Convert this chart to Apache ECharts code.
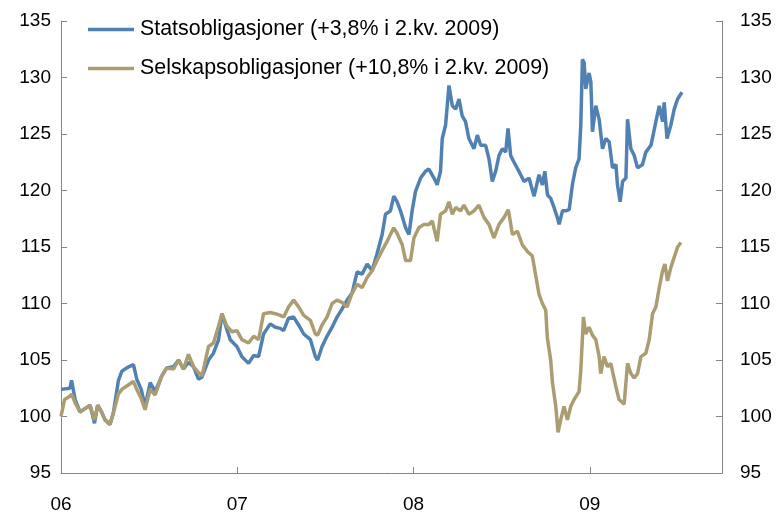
<!DOCTYPE html>
<html>
<head>
<meta charset="utf-8">
<script src="https://cdn.jsdelivr.net/npm/echarts@6/dist/echarts.min.js"></script>
<style>
  html, body { margin: 0; padding: 0; background: #fff; }
  #chart { width: 777px; height: 514px; }
</style>
</head>
<body>
<div id="chart"></div>
<script>
// x values are years since 1 Jan 2006
const statsYears = [0, 0.051, 0.06, 0.08, 0.108, 0.136, 0.165, 0.19, 0.208, 0.23, 0.25, 0.278, 0.297, 0.326, 0.345, 0.373, 0.411, 0.43, 0.455, 0.477, 0.506, 0.534, 0.572, 0.6, 0.638, 0.667, 0.695, 0.723, 0.752, 0.78, 0.8, 0.837, 0.865, 0.894, 0.913, 0.941, 0.96, 0.998, 1.026, 1.064, 1.093, 1.121, 1.149, 1.187, 1.216, 1.244, 1.263, 1.291, 1.32, 1.348, 1.377, 1.415, 1.443, 1.456, 1.481, 1.509, 1.538, 1.566, 1.594, 1.623, 1.651, 1.68, 1.708, 1.737, 1.765, 1.793, 1.822, 1.841, 1.869, 1.888, 1.907, 1.926, 1.955, 1.974, 1.992, 2.011, 2.04, 2.068, 2.087, 2.116, 2.134, 2.153, 2.163, 2.182, 2.201, 2.22, 2.239, 2.258, 2.276, 2.295, 2.314, 2.343, 2.362, 2.381, 2.409, 2.428, 2.447, 2.466, 2.485, 2.504, 2.523, 2.536, 2.551, 2.57, 2.598, 2.627, 2.655, 2.684, 2.712, 2.731, 2.745, 2.76, 2.778, 2.797, 2.816, 2.826, 2.845, 2.864, 2.883, 2.902, 2.92, 2.939, 2.949, 2.958, 2.968, 2.977, 2.996, 3.006, 3.015, 3.034, 3.053, 3.072, 3.091, 3.11, 3.129, 3.148, 3.157, 3.172, 3.186, 3.205, 3.214, 3.233, 3.252, 3.271, 3.299, 3.318, 3.347, 3.375, 3.394, 3.413, 3.422, 3.438, 3.46, 3.479, 3.498, 3.523];
const statsValues = [102.4, 102.5, 103.2, 101.5, 100.4, 100.7, 101, 99.4, 101, 100.4, 99.7, 99.3, 100.3, 103.2, 104, 104.3, 104.6, 103.3, 102.4, 100.9, 103, 102.2, 103.6, 104.3, 104.4, 105, 104.2, 104.8, 104.4, 103.3, 103.5, 105, 105.6, 106.8, 109.1, 107.7, 106.8, 106.2, 105.3, 104.7, 105.4, 105.3, 107.3, 108.2, 107.9, 107.8, 107.6, 108.7, 108.8, 108.1, 107.3, 106.8, 105.3, 105, 106.2, 107.1, 107.9, 108.8, 109.5, 110.3, 110.9, 112.8, 112.6, 113.5, 112.9, 114.4, 116.1, 117.9, 118.2, 119.5, 119, 118.2, 116.7, 116.1, 118.2, 119.9, 121.1, 121.7, 121.9, 121.1, 120.5, 121.7, 124.6, 125.8, 129.3, 127.5, 127.2, 128.1, 126.6, 126.1, 124.6, 123.7, 124.9, 124, 124, 122.8, 120.8, 121.7, 123.1, 123.7, 123.4, 125.5, 123.1, 122.5, 121.7, 120.8, 121.1, 119.5, 121.4, 120.5, 121.7, 119.6, 119.3, 118.5, 117.6, 117, 118.2, 118.2, 118.3, 120.6, 122, 122.8, 125.8, 131.6, 131.3, 129, 130.4, 129.6, 125.2, 127.5, 126.3, 123.7, 124.6, 124.3, 122, 122.3, 120.5, 119, 120.8, 121.1, 126.3, 123.7, 123.1, 122, 122.3, 123.4, 124, 126.1, 127.5, 126.1, 127.8, 124.6, 125.8, 127.2, 128.1, 128.7];

const selskapYears = [0, 0.02, 0.051, 0.06, 0.08, 0.108, 0.136, 0.165, 0.19, 0.208, 0.23, 0.25, 0.278, 0.297, 0.326, 0.345, 0.373, 0.411, 0.43, 0.455, 0.477, 0.506, 0.534, 0.572, 0.6, 0.638, 0.667, 0.695, 0.723, 0.752, 0.78, 0.8, 0.837, 0.865, 0.894, 0.913, 0.941, 0.97, 0.998, 1.026, 1.064, 1.093, 1.121, 1.149, 1.187, 1.216, 1.244, 1.263, 1.291, 1.32, 1.348, 1.377, 1.415, 1.443, 1.456, 1.481, 1.509, 1.538, 1.566, 1.594, 1.623, 1.651, 1.68, 1.708, 1.737, 1.765, 1.793, 1.822, 1.85, 1.869, 1.888, 1.907, 1.936, 1.955, 1.983, 2.002, 2.03, 2.059, 2.087, 2.106, 2.134, 2.153, 2.182, 2.201, 2.22, 2.239, 2.267, 2.286, 2.314, 2.343, 2.371, 2.4, 2.428, 2.456, 2.485, 2.513, 2.538, 2.561, 2.589, 2.617, 2.646, 2.674, 2.693, 2.712, 2.731, 2.75, 2.759, 2.778, 2.788, 2.807, 2.82, 2.835, 2.854, 2.873, 2.892, 2.911, 2.939, 2.949, 2.964, 2.977, 2.996, 3.015, 3.034, 3.053, 3.062, 3.081, 3.1, 3.119, 3.147, 3.166, 3.195, 3.214, 3.233, 3.252, 3.271, 3.29, 3.318, 3.337, 3.356, 3.375, 3.394, 3.413, 3.426, 3.441, 3.46, 3.479, 3.498, 3.517];
const selskapValues = [100, 101.5, 101.8, 102, 101.2, 100.4, 100.7, 101, 99.7, 101, 100.4, 99.7, 99.3, 100.3, 102, 102.4, 102.7, 103.1, 102.4, 101.6, 100.6, 102.4, 101.9, 103.6, 104.3, 104.2, 105, 104.2, 105.5, 104.4, 103.9, 103.6, 106.2, 106.5, 108, 109.1, 108, 107.5, 107.6, 106.8, 106.5, 107.1, 106.8, 109.1, 109.2, 109.1, 108.95, 108.8, 109.7, 110.3, 109.7, 108.95, 108.5, 107.3, 107.2, 108.1, 108.8, 110, 110.3, 110.1, 109.7, 110.9, 111.7, 111.4, 112.3, 112.9, 113.8, 114.7, 115.5, 116.1, 116.7, 116.2, 115.2, 113.8, 113.8, 115.8, 116.7, 117, 117, 117.3, 115.5, 117.9, 118.2, 119, 117.9, 118.5, 118.2, 118.7, 117.9, 118.2, 118.7, 117.6, 117, 115.8, 117, 117.6, 118.3, 116.1, 116.4, 115.2, 114.6, 114.2, 112.5, 110.8, 110, 109.4, 107, 105, 103, 100.9, 98.6, 99.7, 100.9, 99.7, 100.9, 101.5, 102.2, 104.1, 108.8, 107.3, 107.9, 107.2, 106.8, 105.3, 103.8, 105.3, 104.4, 104.7, 102.7, 101.5, 101.1, 104.7, 103.8, 103.4, 103.8, 105.3, 105.6, 106.8, 109.1, 109.7, 111.4, 112.9, 113.5, 112, 113.2, 114.1, 115, 115.4];

const yearLabels = ['06', '07', '08', '09'];
const seriesNames = ['Statsobligasjoner (+3,8% i 2.kv. 2009)', 'Selskapsobligasjoner (+10,8% i 2.kv. 2009)'];

const blue = '#5181b3';
const tan = '#ab9d71';
const axisGrey = '#868686';
const font = "Arial, 'Liberation Sans', sans-serif";

function zip(xs, ys) {
  return xs.map((x, i) => [x, ys[i]]);
}

const yAxisBase = {
  type: 'value',
  min: 95,
  max: 135,
  interval: 5,
  axisLine: { show: true, lineStyle: { color: axisGrey, width: 1 } },
  axisTick: { show: true, inside: true, length: 6, lineStyle: { color: axisGrey } },
  axisLabel: { color: '#000', fontSize: 19, fontFamily: font },
  splitLine: { show: false },
};

const chart = echarts.init(document.getElementById('chart'), null, { renderer: 'canvas' });

chart.setOption({
  backgroundColor: '#fff',
  animation: false,
  grid: { left: 61, right: 55, top: 21, bottom: 41, containLabel: false },
  legend: {
    data: seriesNames,
    orient: 'vertical',
    left: 88,
    top: 19,
    padding: 0,
    itemWidth: 46,
    itemHeight: 3.5,
    itemGap: 18,
    icon: 'rect',
    textStyle: { color: '#000', fontSize: 21.4, fontFamily: font, padding: [0, 0, 0, 1] },
  },
  xAxis: {
    type: 'value',
    min: 0,
    max: 3.75,
    interval: 1,
    axisLine: { show: true, lineStyle: { color: axisGrey, width: 1 } },
    axisTick: { show: true, inside: true, length: 6, lineStyle: { color: axisGrey } },
    axisLabel: {
      color: '#000',
      fontSize: 19,
      fontFamily: font,
      margin: 22,
      formatter: (v) => (Number.isInteger(v) ? yearLabels[v] : ''),
    },
    splitLine: { show: false },
  },
  yAxis: [
    Object.assign({}, yAxisBase, { position: 'left', axisLabel: Object.assign({}, yAxisBase.axisLabel, { margin: 10 }) }),
    Object.assign({}, yAxisBase, { position: 'right', axisLabel: Object.assign({}, yAxisBase.axisLabel, { margin: 18 }) }),
  ],
  series: [
    {
      name: seriesNames[0],
      type: 'line',
      data: zip(statsYears, statsValues),
      showSymbol: false,
      lineStyle: { color: blue, width: 3.5 },
      itemStyle: { color: blue },
    },
    {
      name: seriesNames[1],
      type: 'line',
      data: zip(selskapYears, selskapValues),
      showSymbol: false,
      lineStyle: { color: tan, width: 3.5 },
      itemStyle: { color: tan },
    },
  ],
});
</script>
</body>
</html>
